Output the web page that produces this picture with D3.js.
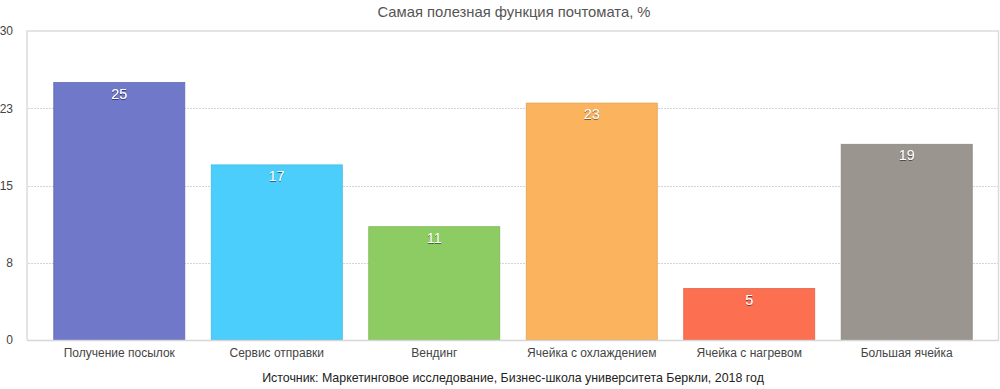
<!DOCTYPE html>
<html>
<head>
<meta charset="utf-8">
<script src="https://cdn.jsdelivr.net/npm/d3@7"></script>
<style>
  body { margin: 0; background: #fff; }
  svg { display: block; font-family: "Liberation Sans", Arial, sans-serif; }
</style>
</head>
<body>
<svg id="chart"></svg>
<script>
// Данные
const categories = ["Получение посылок", "Сервис отправки", "Вендинг", "Ячейка с охлаждением", "Ячейка с нагревом", "Большая ячейка"];
const values = [25, 17, 11, 23, 5, 19];
const barColors = ["#6f78c9", "#4bcefb", "#8ccc63", "#fbb35e", "#fd6f51", "#9a958f"];
const yTicks = [0, 7.5, 15, 22.5, 30];

const width = 1000, height = 389;
const margin = { top: 31, right: 1, bottom: 49, left: 27 };

const svg = d3.select("#chart").attr("width", width).attr("height", height);

// тень для подписей
const filter = svg.append("defs").append("filter")
    .attr("id", "shadow")
    .attr("x", "-20%").attr("y", "-20%")
    .attr("width", "140%").attr("height", "140%");
filter.append("feDropShadow")
    .attr("dx", 0).attr("dy", 0.6)
    .attr("stdDeviation", 0.7)
    .attr("flood-color", "#000")
    .attr("flood-opacity", 0.8);

const x = d3.scaleBand()
    .domain(categories)
    .range([margin.left, width - margin.right])
    .paddingInner(0.168)
    .paddingOuter(0.17);

const y = d3.scaleLinear()
    .domain([0, 30])
    .range([height - margin.bottom, margin.top]);

// рамка области графика
svg.append("path")
    .attr("d", `M${margin.left},${y(0)}V${y(30)}H${width - margin.right - 0.5}V${y(0)}`)
    .attr("fill", "none")
    .attr("stroke", "#dcdcdc")
    .attr("stroke-width", 1.5);

// сетка
svg.append("g")
    .selectAll("line")
    .data(yTicks.filter(t => t > 0 && t < 30))
    .join("line")
    .attr("x1", margin.left + 1)
    .attr("x2", width - margin.right - 1)
    .attr("y1", d => Math.round(y(d)) + 0.5)
    .attr("y2", d => Math.round(y(d)) + 0.5)
    .attr("stroke", "#d4d4d4")
    .attr("stroke-dasharray", "2,1");

// ось Y
const yAxis = svg.append("g")
    .attr("transform", `translate(${margin.left},0)`)
    .call(d3.axisLeft(y).tickValues(yTicks).tickFormat(d => Math.round(d)).tickSize(0).tickPadding(14));
yAxis.select(".domain").remove();
yAxis.selectAll("text")
    .attr("font-size", 12)
    .attr("fill", "#444")
    .attr("font-family", "Liberation Sans, Arial, sans-serif");

// столбцы
svg.append("g")
    .selectAll("rect")
    .data(values)
    .join("rect")
    .attr("x", (d, i) => x(categories[i]))
    .attr("y", d => y(d))
    .attr("width", x.bandwidth())
    .attr("height", d => y(0) - y(d))
    .attr("fill", (d, i) => barColors[i])
    .attr("stroke", (d, i) => d3.color(barColors[i]).darker(0.3))
    .attr("stroke-width", 0.8);

// нижняя линия оси
svg.append("line")
    .attr("x1", margin.left)
    .attr("x2", width - margin.right)
    .attr("y1", y(0) + 0.5)
    .attr("y2", y(0) + 0.5)
    .attr("stroke", "#d6d6d6")
    .attr("stroke-width", 1.5);

// подписи значений
svg.append("g")
    .selectAll("text")
    .data(values)
    .join("text")
    .attr("x", (d, i) => x(categories[i]) + x.bandwidth() / 2)
    .attr("y", d => y(d) + 16)
    .attr("text-anchor", "middle")
    .attr("font-size", 14.5)
    .attr("fill", "#fff")
    .attr("filter", "url(#shadow)")
    .text(d => d);

// ось X
const xAxis = svg.append("g")
    .attr("transform", `translate(0,${y(0)})`)
    .call(d3.axisBottom(x).tickSize(0).tickPadding(8));
xAxis.select(".domain").remove();
xAxis.selectAll("text")
    .attr("font-size", 12)
    .attr("fill", "#444")
    .attr("font-family", "Liberation Sans, Arial, sans-serif");

// заголовок
svg.append("text")
    .attr("x", 514)
    .attr("y", 17)
    .attr("text-anchor", "middle")
    .attr("font-size", 14.8)
    .attr("fill", "#555")
    .text("Самая полезная функция почтомата, %");

// источник
svg.append("text")
    .attr("x", 513)
    .attr("y", 382)
    .attr("text-anchor", "middle")
    .attr("font-size", 12.4)
    .attr("fill", "#222")
    .text("Источник: Маркетинговое исследование, Бизнес-школа университета Беркли, 2018 год");
</script>
</body>
</html>
